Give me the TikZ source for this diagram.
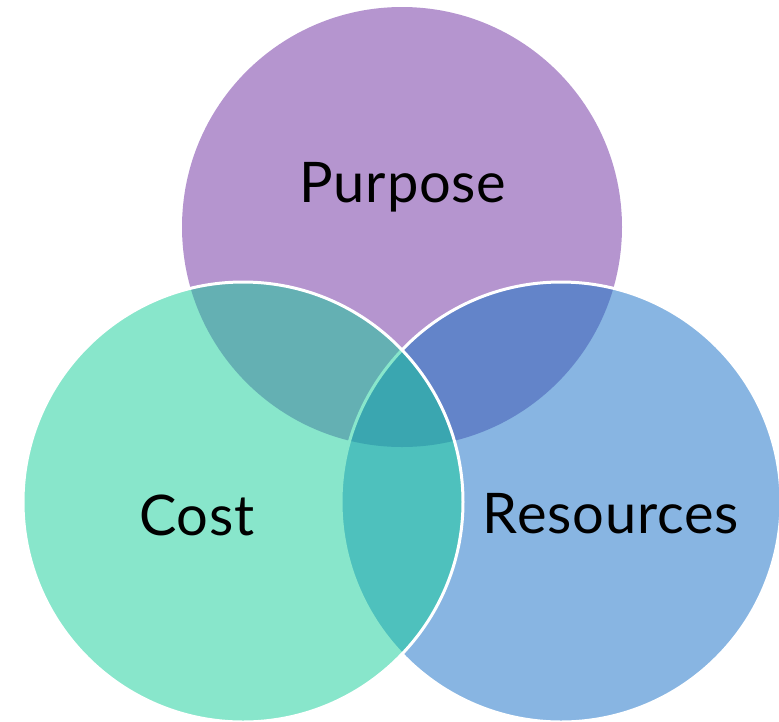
\documentclass[tikz,border=0pt]{standalone}
\usepackage{fontspec}
\setmainfont[LetterSpace=1.5]{Lato}
\definecolor{cpur}{HTML}{B595CF}
\definecolor{cblu}{HTML}{88B5E2}
\definecolor{cgrn}{HTML}{88E6CB}
\definecolor{cpg}{HTML}{64B0B3}
\definecolor{cpb}{HTML}{6384C9}
\definecolor{cgb}{HTML}{4EC1BD}
\definecolor{call}{HTML}{3AA6B0}
\tikzset{
  lbl/.style={anchor=base, inner sep=0pt, font=\fontsize{56}{60}\selectfont, text=black},
  ring/.style={line width=3pt}
}
\begin{document}
\begin{tikzpicture}[x=1pt,y=-1pt]
\useasboundingbox (0,0) rectangle (779,721);
\def\rad{220}
\coordinate (P) at (402,227);
\coordinate (C) at (243,502);
\coordinate (R) at (561,502);
% base circles
\fill[cpur] (P) circle (\rad);
\fill[cblu] (R) circle (\rad);
\fill[cgrn] (C) circle (\rad);
% pairwise overlaps with purple
\begin{scope}
  \clip (P) circle (\rad);
  \fill[cpg] (C) circle (\rad);
  \fill[cpb] (R) circle (\rad);
\end{scope}
% green-blue overlap and centre
\begin{scope}
  \clip (C) circle (\rad);
  \clip (R) circle (\rad);
  \fill[cgb] (R) circle (\rad);
  \clip (P) circle (\rad);
  \fill[call] (P) circle (\rad);
\end{scope}
% outline of Resources circle: white, seen through Cost fill
\begin{scope}[even odd rule]
  \clip (-10,-10) rectangle (800,740) (C) circle (\rad);
  \draw[ring, white] (R) circle (\rad);
\end{scope}
\begin{scope}
  \clip (C) circle (\rad);
  \draw[ring, cgrn] (R) circle (\rad);
\end{scope}
% outline of Cost circle
\draw[ring, white] (C) circle (\rad);
% labels
\node[lbl] (purpose) at (403,202) {Purpose};
\node[lbl] (cost) at (197,535) {Cost};
\node[lbl] (resources) at (611,533) {Resources};
\end{tikzpicture}
\end{document}
